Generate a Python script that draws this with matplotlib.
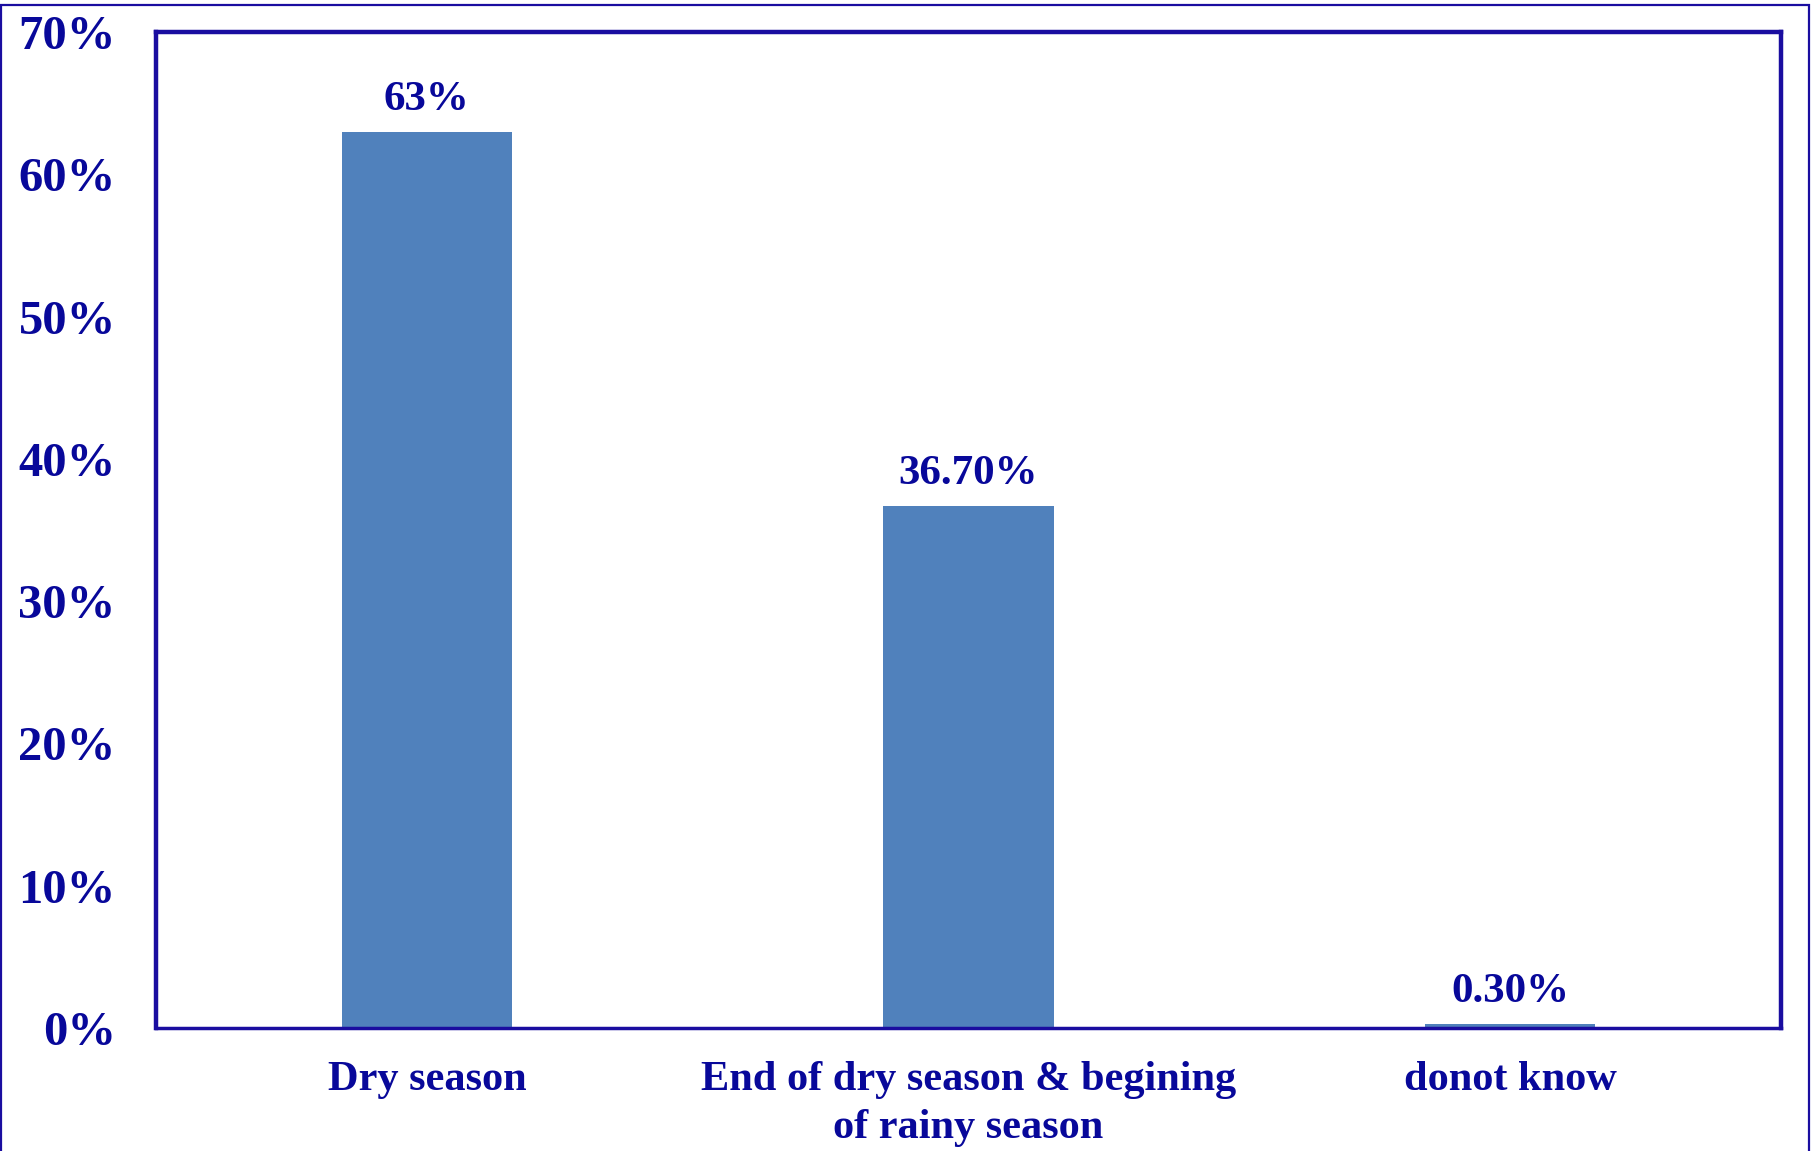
import matplotlib
matplotlib.use('Agg')
import matplotlib.pyplot as plt
from matplotlib.patches import Rectangle

# data
categories = ['Dry season', 'End of dry season & begining\nof rainy season', 'donot know']
values = [63, 36.7, 0.3]
value_labels = ['63%', '36.70%', '0.30%']
y_ticks = [0, 10, 20, 30, 40, 50, 60, 70]

text_col = '#08089a'
line_col = '#1a0da0'
bar_col = '#5081bc'

plt.rcParams['font.family'] = ['Liberation Serif', 'DejaVu Serif']
plt.rcParams['font.weight'] = 'bold'

fig = plt.figure(figsize=(18.18, 11.51), dpi=100)
ax = fig.add_axes([156 / 1818, 1 - 1028 / 1151, (1781 - 156) / 1818, (1028 - 32) / 1151])

x = [i + 0.5 for i in range(len(categories))]
ax.bar(x, values, width=0.314, color=bar_col, zorder=2)
ax.set_xlim(0, 3)
ax.set_ylim(0, 70)

# value labels above bars
for xi, v, lab in zip(x, values, value_labels):
    ax.annotate(lab, (xi, v), xytext=(0, 9), textcoords='offset points',
                ha='center', va='bottom', fontsize=31, fontweight='bold', color=text_col)

ax.set_yticks(y_ticks)
ax.set_yticklabels([f'{t}%' for t in y_ticks])
ax.set_xticks(x)
ax.set_xticklabels(categories, linespacing=1.32)
ax.tick_params(axis='y', length=0, pad=29, labelsize=35, labelcolor=text_col)
ax.tick_params(axis='x', length=0, pad=24, labelsize=30.5, labelcolor=text_col)
for lab in ax.get_xticklabels() + ax.get_yticklabels():
    lab.set_fontweight('bold')

for s in ax.spines.values():
    s.set_color(line_col)
    s.set_linewidth(3.2)
ax.spines['bottom'].set_linewidth(2.5)

# outer frame of the picture
fig.patches.append(Rectangle((1 / 1818, -0.02), 1808 / 1818, 1.02 - 5 / 1151,
                             transform=fig.transFigure, fill=False,
                             edgecolor=line_col, linewidth=1.6))

plt.savefig('out.png', dpi=100)
